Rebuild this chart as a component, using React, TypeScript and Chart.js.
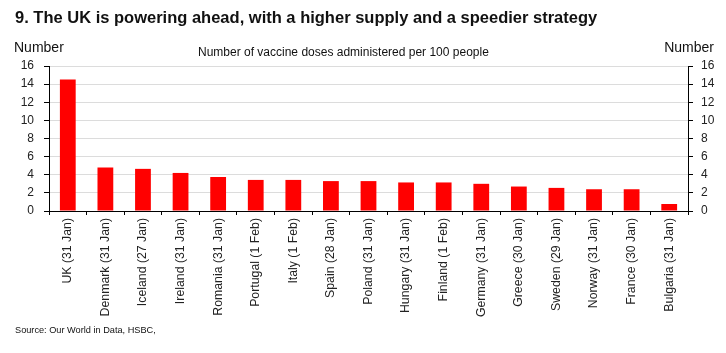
import React, { useEffect, useRef } from "react";
import { Chart, registerables } from "chart.js";

Chart.register(...registerables);

const categories = [
  "UK (31 Jan)",
  "Denmark (31 Jan)",
  "Iceland (27 Jan)",
  "Ireland (31 Jan)",
  "Romania (31 Jan)",
  "Portugal (1 Feb)",
  "Italy (1 Feb)",
  "Spain (28 Jan)",
  "Poland (31 Jan)",
  "Hungary (31 Jan)",
  "Finland (1 Feb)",
  "Germany (31 Jan)",
  "Greece (30 Jan)",
  "Sweden (29 Jan)",
  "Norway (31 Jan)",
  "France (30 Jan)",
  "Bulgaria (31 Jan)",
];

const dosesPer100 = [
  14.5, 4.8, 4.65, 4.2, 3.75, 3.43, 3.43, 3.3, 3.3, 3.15, 3.15, 3.0, 2.7, 2.55,
  2.4, 2.4, 0.77,
];

const yMin = 0;
const yMax = 16;
const yStep = 2;

const title = "9. The UK is powering ahead, with a higher supply and a speedier strategy";
const subtitle = "Number of vaccine doses administered per 100 people";
const axisTitle = "Number";
const source = "Source: Our World in Data, HSBC,";

const SANS = "'Liberation Sans', Arial, sans-serif";

export default function App() {
  const ref = useRef<HTMLCanvasElement | null>(null);

  useEffect(() => {
    if (!ref.current) return;
    const yFont = { family: SANS, size: 12 };
    const xFont = { family: SANS, size: 12.3 };
    const chart = new Chart(ref.current, {
      type: "bar",
      data: {
        labels: categories,
        datasets: [
          {
            data: dosesPer100,
            backgroundColor: "#ff0000",
            borderWidth: 0,
            barPercentage: 0.42,
            categoryPercentage: 1,
            yAxisID: "y",
          },
        ],
      },
      options: {
        animation: false,
        responsive: false,
        devicePixelRatio: 1,
        layout: { padding: { top: 66, bottom: 32, left: 0, right: 0 } },
        plugins: {
          legend: { display: false },
          tooltip: { enabled: false },
          title: { display: false },
        },
        scales: {
          x: {
            type: "category",
            offset: true,
            grid: {
              offset: true,
              drawOnChartArea: false,
              tickLength: 4,
              tickColor: "#000",
              color: "#000",
            },
            border: { color: "#000", width: 1 },
            ticks: {
              minRotation: 90,
              maxRotation: 90,
              autoSkip: false,
              padding: 3,
              font: xFont,
              color: "#222",
            },
            afterFit: (s: any) => {
              s.height = 110;
            },
          },
          y: {
            position: "left",
            min: yMin,
            max: yMax,
            ticks: { stepSize: yStep, autoSkip: false, padding: 10, font: yFont, color: "#222" },
            grid: {
              color: "#dcdcdc",
              tickColor: "#000",
              tickLength: 5,
              drawOnChartArea: true,
            },
            border: { color: "#000", width: 1 },
            afterFit: (s: any) => {
              s.width = 49;
            },
          },
          y2: {
            position: "right",
            min: yMin,
            max: yMax,
            ticks: { stepSize: yStep, autoSkip: false, padding: 8, font: yFont, color: "#222" },
            grid: {
              drawOnChartArea: false,
              tickColor: "#000",
              tickLength: 5,
            },
            border: { color: "#000", width: 1 },
            afterFit: (s: any) => {
              s.width = 38;
            },
          },
        },
      },
    });
    return () => chart.destroy();
  }, []);

  const abs = (style: React.CSSProperties): React.CSSProperties => ({
    position: "absolute",
    whiteSpace: "nowrap",
    lineHeight: 1,
    color: "#111",
    ...style,
  });

  return (
    <div
      style={{
        position: "fixed",
        left: 0,
        top: 0,
        width: 726,
        height: 353,
        background: "#fff",
        overflow: "hidden",
      }}
    >
      <canvas
        ref={ref}
        width={726}
        height={353}
        style={{ position: "absolute", left: 0, top: 0, width: 726, height: 353 }}
      />
      <div style={abs({ left: 15, top: 9, fontFamily: SANS, fontWeight: 700, fontSize: 16.5 })}>{title}</div>
      <div style={abs({ left: 14, top: 40, fontFamily: SANS, fontSize: 14 })}>{axisTitle}</div>
      <div style={abs({ right: 12, top: 40, fontFamily: SANS, fontSize: 14 })}>{axisTitle}</div>
      <div style={abs({ left: 198, top: 46, fontFamily: SANS, fontSize: 12 })}>{subtitle}</div>
      <div style={abs({ left: 15, top: 326, fontFamily: SANS, fontSize: 9.2 })}>{source}</div>
    </div>
  );
}
